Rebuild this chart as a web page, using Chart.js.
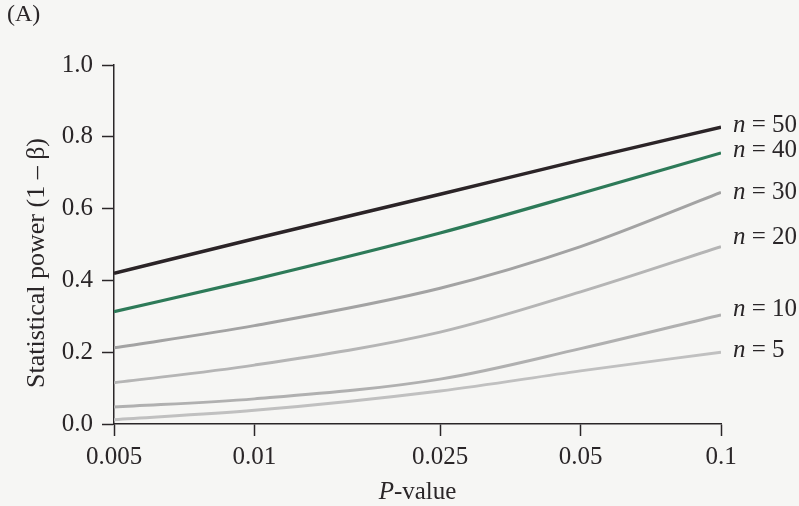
<!DOCTYPE html>
<html>
<head>
<meta charset="utf-8">
<script src="https://cdn.jsdelivr.net/npm/chart.js@4"></script>
<style>
  html, body { margin: 0; padding: 0; background: #f6f6f4; }
  #wrap { position: relative; width: 799px; height: 506px; }
</style>
</head>
<body>
<div id="wrap"><canvas id="chartPower"></canvas></div>
<script>
// P-value ticks (log axis)
const pValues = [0.005, 0.01, 0.025, 0.05, 0.1];
const yTicks = [0, 0.2, 0.4, 0.6, 0.8, 1.0];

// statistical power per sample size, read at each P-value
const power50 = [0.42, 0.516, 0.64, 0.735, 0.827];
const power40 = [0.313, 0.403, 0.532, 0.642, 0.755];
const power30 = [0.212, 0.274, 0.378, 0.494, 0.645];
const power20 = [0.115, 0.164, 0.256, 0.368, 0.494];
const power10 = [0.047, 0.07, 0.125, 0.21, 0.304];
const power5 = [0.012, 0.038, 0.092, 0.148, 0.2];

const seriesLabels = ["50", "40", "30", "20", "10", "5"];

const serif = "'Liberation Serif', 'DejaVu Serif', serif";
const ink = "#2a2628";

function pts(arr) {
  return arr.map((v, i) => ({ x: pValues[i], y: v }));
}

function ds(label, arr, color, width) {
  return {
    label: label,
    data: pts(arr),
    borderColor: color,
    borderWidth: width,
    pointRadius: 0,
    cubicInterpolationMode: "monotone",
    fill: false,
  };
}

// labels at right end of lines, title, axis titles
const annotations = {
  id: "annotations",
  afterDraw(chart) {
    const c = chart.ctx;
    const area = chart.chartArea;
    c.save();
    c.fillStyle = ink;
    c.textBaseline = "middle";
    c.textAlign = "left";
    const shift = [-2, -3, 0, -9, -5, -2];
    chart.data.datasets.forEach((d, i) => {
      const meta = chart.getDatasetMeta(i);
      const last = meta.data[meta.data.length - 1];
      const x = area.right + 12;
      const y = last.y + shift[i];
      c.font = "italic 25px " + serif;
      c.fillText("n", x, y);
      const w = c.measureText("n").width;
      c.font = "25px " + serif;
      c.fillText(" = " + seriesLabels[i], x + w, y);
    });

    // panel letter
    c.font = "24px " + serif;
    c.fillText("(A)", 7, 15);

    // y axis title
    c.save();
    c.translate(37, 263);
    c.rotate(-Math.PI / 2);
    c.textAlign = "center";
    c.font = "26px " + serif;
    c.fillText("Statistical power (1 \u2013 \u03b2)", 0, 0);
    c.restore();

    // x axis title
    const cx = (area.left + area.right) / 2;
    c.font = "italic 25px " + serif;
    const wP = c.measureText("P").width;
    c.font = "25px " + serif;
    const wRest = c.measureText("-value").width;
    const sx = cx - (wP + wRest) / 2;
    c.font = "italic 25px " + serif;
    c.fillText("P", sx, 492);
    c.font = "25px " + serif;
    c.fillText("-value", sx + wP, 492);
    c.restore();
  },
};

const ctx = document.getElementById("chartPower");
new Chart(ctx.getContext("2d"), {
  type: "line",
  data: {
    datasets: [
      ds("n = 50", power50, "#2b2427", 3.5),
      ds("n = 40", power40, "#2d7a58", 3.2),
      ds("n = 30", power30, "#a3a3a3", 3),
      ds("n = 20", power20, "#b5b5b5", 3),
      ds("n = 10", power10, "#b0b0b0", 3),
      ds("n = 5", power5, "#c0c0c0", 3),
    ],
  },
  options: {
    responsive: true,
    maintainAspectRatio: false,
    animation: false,
    layout: { padding: { top: 65, right: 78, left: 0, bottom: 0 } },
    plugins: { legend: { display: false }, tooltip: { enabled: false } },
    scales: {
      x: {
        type: "logarithmic",
        min: 0.005,
        max: 0.1,
        afterBuildTicks: (scale) => {
          scale.ticks = pValues.map((v) => ({ value: v }));
        },
        afterFit: (scale) => {
          scale.height = 82;
        },
        border: { color: ink, width: 1.5 },
        grid: {
          drawOnChartArea: false,
          tickLength: 12,
          tickColor: ink,
          tickWidth: 1.5,
        },
        ticks: {
          color: ink,
          font: { family: serif, size: 25 },
          padding: 6,
          maxRotation: 0,
          autoSkip: false,
          callback: (v) => String(v),
        },
      },
      y: {
        min: 0,
        max: 1,
        afterBuildTicks: (scale) => {
          scale.ticks = yTicks.map((v) => ({ value: v }));
        },
        afterFit: (scale) => {
          scale.width = 114;
        },
        border: { color: ink, width: 1.5 },
        grid: {
          drawOnChartArea: false,
          tickLength: 12,
          tickColor: ink,
          tickWidth: 1.5,
        },
        ticks: {
          color: ink,
          font: { family: serif, size: 25 },
          padding: 9,
          callback: (v) => v.toFixed(1),
        },
      },
    },
  },
  plugins: [annotations],
});
</script>
</body>
</html>
